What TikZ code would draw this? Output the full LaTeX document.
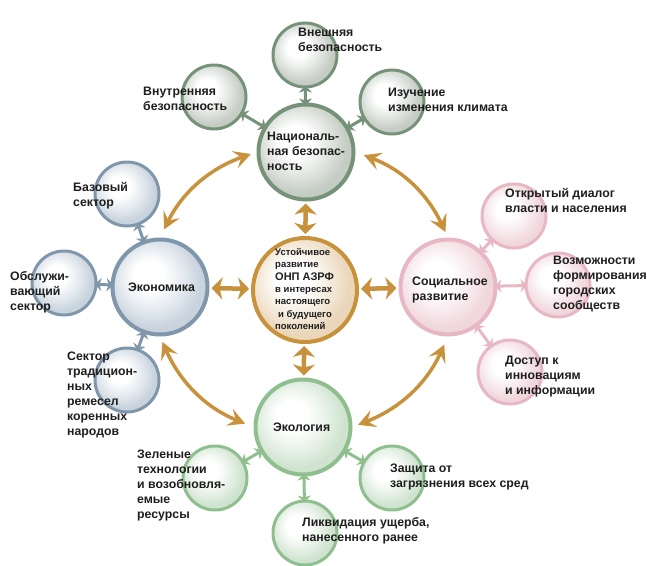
\documentclass[tikz,border=0pt]{standalone}
\usepackage{fontspec}
\setmainfont{Liberation Sans}
\usetikzlibrary{arrows.meta}

\definecolor{coreC}{HTML}{C8913C}
\definecolor{coreF}{HTML}{EAD6B8}
\definecolor{natC}{HTML}{76937A}
\definecolor{natF}{HTML}{C4CCC3}
\definecolor{ecoC}{HTML}{8096AB}
\definecolor{ecoF}{HTML}{C8D3DE}
\definecolor{socC}{HTML}{E8B7C4}
\definecolor{socF}{HTML}{F0D6DD}
\definecolor{ecolC}{HTML}{8FBF8F}
\definecolor{ecolF}{HTML}{CFE3CF}
\definecolor{textC}{HTML}{1E1E1E}

\makeatletter
\pgfdeclareradialshading[tikz@ball]{glass}{\pgfpoint{-7bp}{7bp}}{%
  color(0bp)=(white); color(8bp)=(white); color(17bp)=(tikz@ball!50!white);
  color(25bp)=(tikz@ball); color(50bp)=(tikz@ball)}
\makeatother

\begin{document}
\begin{tikzpicture}[x=1pt, y=-1pt,
core/.style={circle, draw=coreC, line width=4pt, ball color=coreF, shading=glass, minimum size=104pt},
hub/.style={circle, line width=4pt, minimum size=95pt},
sat/.style={circle, line width=3pt, minimum size=64pt},
natgrp/.style={draw=natC, ball color=natF, shading=glass},
ecogrp/.style={draw=ecoC, ball color=ecoF, shading=glass},
socgrp/.style={draw=socC, ball color=socF, shading=glass},
ecolgrp/.style={draw=ecolC, ball color=ecolF, shading=glass},
txt/.style={anchor=west, inner sep=0pt, align=left, text=textC, font=\bfseries\fontsize{12.3}{15}\selectfont},
bigarc/.style={<->, >={Stealth[length=17pt, width=18pt, inset=7pt]}, draw=coreC, line width=3.5pt, shorten <=9pt, shorten >=6pt},
link/.style={<->, >={Stealth[length=11pt, width=22pt, inset=3pt]}, draw=coreC, line width=4.5pt, shorten <=2pt, shorten >=2pt},
sub/.style={<->, >={Stealth[length=7pt, width=13pt, inset=2pt]}, line width=3pt, shorten <=-3pt, shorten >=-3pt},
]
\useasboundingbox (0,0) rectangle (647,565);

%Nodes
\node[core]          (core)  at (305,290) {};
\node[hub, natgrp]   (nat)   at (306,152) {};
\node[hub, ecogrp]   (eco)   at (160,287) {};
\node[hub, socgrp]   (soc)   at (448,287) {};
\node[hub, ecolgrp]  (ecol)  at (303,427) {};

\node[sat, natgrp]   (ext)   at (305,55)  {};
\node[sat, natgrp]   (int)   at (214,97)  {};
\node[sat, natgrp]   (clim)  at (392,102) {};

\node[sat, ecogrp]   (base)  at (127,194) {};
\node[sat, ecogrp]   (serv)  at (64,283)  {};
\node[sat, ecogrp]   (trad)  at (127,380) {};

\node[sat, socgrp]   (dial)  at (514,216) {};
\node[sat, socgrp]   (urb)   at (558,285) {};
\node[sat, socgrp]   (acc)   at (510,372) {};

\node[sat, ecolgrp]  (green) at (215,478) {};
\node[sat, ecolgrp]  (prot)  at (392,478) {};
\node[sat, ecolgrp]  (liq)   at (305,533) {};

%Lines
\draw[bigarc] (eco.north) to[bend left=22] (nat.west);
\draw[bigarc] (nat.east) to[bend left=22] (soc.north);
\draw[bigarc] (soc.south) to[bend left=22] (ecol.east);
\draw[bigarc] (ecol.west) to[bend left=22] (eco.south);

\draw[link] (core) -- (nat);
\draw[link] (core) -- (eco);
\draw[link] (core) -- (soc);
\draw[link] (core) -- (ecol);

\draw[sub, natC] (nat) -- (ext);
\draw[sub, natC] (nat) -- (int);
\draw[sub, natC] (nat) -- (clim);
\draw[sub, ecoC] (eco) -- (base);
\draw[sub, ecoC] (eco) -- (serv);
\draw[sub, ecoC] (eco) -- (trad);
\draw[sub, socC] (soc) -- (dial);
\draw[sub, socC] (soc) -- (urb);
\draw[sub, socC] (soc) -- (acc);
\draw[sub, ecolC] (ecol) -- (green);
\draw[sub, ecolC] (ecol) -- (prot);
\draw[sub, ecolC] (ecol) -- (liq);

%Labels
\node[txt, font=\bfseries\fontsize{9.5}{12.3}\selectfont] (coreT) at (275,289)
  {Устойчивое\\развитие\\{\fontsize{11}{12.3}\selectfont ОНП АЗРФ}\\в интересах\\настоящего\\\hspace*{3pt}и будущего\\поколений};
\node[txt] (natT)   at (267,151) {Националь-\\ная безопас-\\ность};
\node[txt] (ecoT)   at (128,287) {Экономика};
\node[txt] (socT)   at (412,290) {Социальное\\развитие};
\node[txt] (ecolT)  at (273,427) {Экология};

\node[txt] (extT)   at (298,40)  {Внешняя\\безопасность};
\node[txt] (intT)   at (143,99)  {Внутренняя\\безопасность};
\node[txt] (climT)  at (388,100) {Изучение\\изменения климата};

\node[txt] (baseT)  at (73,196)  {Базовый\\сектор};
\node[txt] (servT)  at (10,292)  {Обслужи-\\вающий\\сектор};
\node[txt] (tradT)  at (67,395)  {Сектор\\традицион-\\ных\\ремесел\\коренных\\народов};

\node[txt] (dialT)  at (505,200) {Открытый диалог\\власти и населения};
\node[txt] (urbT)   at (553,284) {Возможности\\формирования\\городских\\сообществ};
\node[txt] (accT)   at (505,377) {Доступ к\\инновациям\\и информации};

\node[txt] (greenT) at (137,485) {Зеленые\\технологии\\и возобновля-\\емые\\ресурсы};
\node[txt] (protT)  at (390,477) {Защита от\\загрязнения всех сред};
\node[txt] (liqT)   at (302,531) {Ликвидация ущерба,\\нанесенного ранее};
\end{tikzpicture}
\end{document}
